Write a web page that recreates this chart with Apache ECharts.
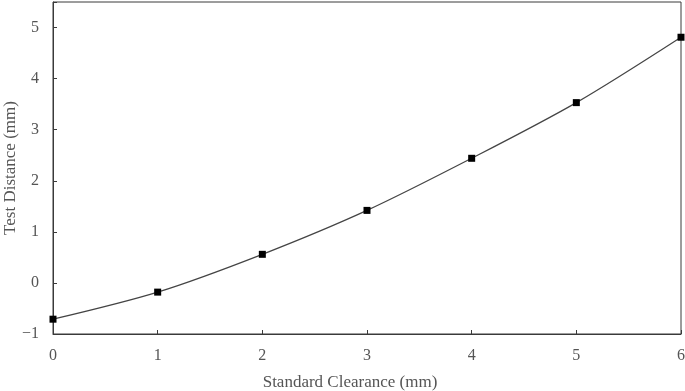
<!DOCTYPE html>
<html>
<head>
<meta charset="utf-8">
<script src="https://cdn.jsdelivr.net/npm/echarts@6/dist/echarts.min.js"></script>
<style>
  html, body { margin: 0; padding: 0; background: #fff; }
  #chart { width: 685px; height: 391px; }
</style>
</head>
<body>
<div id="chart"></div>
<script>
const clearance = [0, 1, 2, 3, 4, 5, 6]
const testDistance = [-0.71, -0.18, 0.56, 1.42, 2.44, 3.53, 4.81]
const xTicks = [0, 1, 2, 3, 4, 5, 6]
const yTicks = [-1, 0, 1, 2, 3, 4, 5]

const myChart = echarts.init(document.getElementById('chart'))
const font = 'Liberation Serif'
const axisColor = '#3a3a3a'
const textColor = '#555'

const option = {
  animation: false,
  grid: {
    left: 53,
    right: 4,
    top: 2,
    bottom: 57,
    containLabel: false,
    outerBoundsMode: 'none',
    show: true,
    borderColor: axisColor,
    borderWidth: 1
  },
  xAxis: {
    type: 'value',
    min: xTicks[0],
    max: xTicks[xTicks.length - 1],
    interval: 1,
    name: 'Standard Clearance (mm)',
    nameLocation: 'middle',
    nameGap: 40,
    nameMoveOverlap: false,
    nameTextStyle: {
      fontFamily: font,
      fontSize: 17,
      color: textColor,
      padding: [0, 34, 0, 0]
    },
    splitLine: { show: false },
    axisLine: { show: true, onZero: false, lineStyle: { color: axisColor, width: 1 } },
    axisTick: { show: true, inside: true, length: 4, lineStyle: { color: axisColor } },
    axisLabel: {
      fontFamily: font,
      fontSize: 16,
      color: textColor,
      margin: 14
    }
  },
  yAxis: {
    type: 'value',
    min: yTicks[0],
    max: 5.5,
    interval: 1,
    name: 'Test Distance (mm)',
    nameLocation: 'middle',
    nameGap: 34,
    nameMoveOverlap: false,
    nameTextStyle: {
      fontFamily: font,
      fontSize: 17,
      color: textColor
    },
    splitLine: { show: false },
    axisLine: { show: true, onZero: false, lineStyle: { color: axisColor, width: 1 } },
    axisTick: { show: true, inside: true, length: 4, lineStyle: { color: axisColor } },
    axisLabel: {
      fontFamily: font,
      fontSize: 16,
      color: textColor,
      margin: 14,
      formatter: (v) => (yTicks.indexOf(v) >= 0 ? String(v).replace('-', '\u2212') : '')
    }
  },
  series: [
    {
      type: 'line',
      data: clearance.map((x, i) => [x, testDistance[i]]),
      smooth: 0.3,
      symbol: 'rect',
      symbolSize: 7,
      itemStyle: { color: '#000' },
      lineStyle: { color: '#444', width: 1.2 },
      clip: false
    }
  ]
}
myChart.setOption(option)
</script>
</body>
</html>
